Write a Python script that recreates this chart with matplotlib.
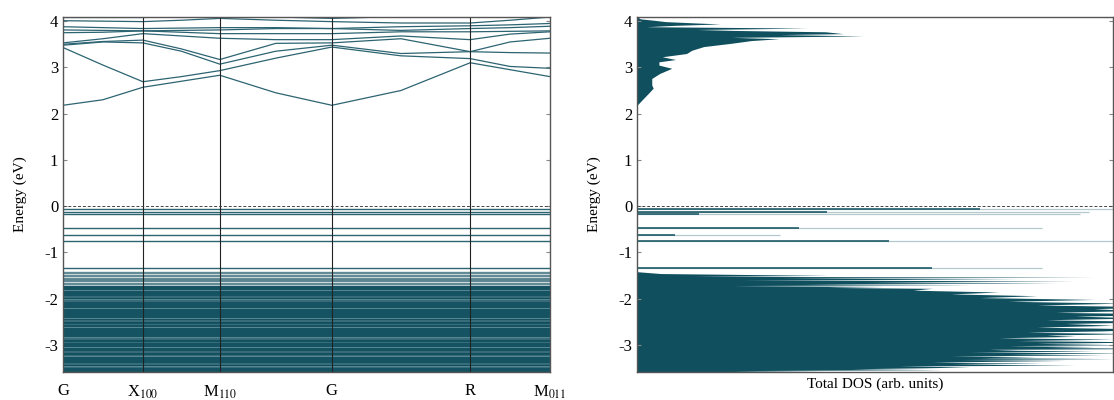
import numpy as np
import matplotlib.pyplot as plt

plt.rcParams['font.family'] = ['Liberation Serif', 'DejaVu Serif']
plt.rcParams['mathtext.fontset'] = 'stix'
plt.rcParams['axes.unicode_minus'] = False

#- Colores
teal = '#0f4f5e'
banda = '#2d6472'

#- Camino k (posiciones relativas de los puntos de alta simetria)
kpts = [0.0, 0.164, 0.322, 0.552, 0.836, 1.0]
klabels = ['G', r'X$_{\mathrm{100}}$', r'M$_{\mathrm{110}}$', 'G', 'R', r'M$_{\mathrm{011}}$']
# muestras: puntos de alta simetria y puntos medios de cada tramo
kmuestra = [0.0, 0.082, 0.164, 0.243, 0.322, 0.437, 0.552, 0.694, 0.836, 0.918, 1.0]

c1 = [2.18, 2.30, 2.57, 2.70, 2.83, 2.45, 2.18, 2.50, 3.10, 2.95, 2.80]
c2 = [3.43, 3.05, 2.69, 2.80, 2.93, 3.20, 3.44, 3.25, 3.19, 3.02, 2.98]
c3 = [3.48, 3.55, 3.53, 3.35, 3.07, 3.35, 3.48, 3.30, 3.34, 3.32, 3.31]
c4 = [3.50, 3.56, 3.59, 3.40, 3.17, 3.52, 3.53, 3.62, 3.34, 3.55, 3.63]
c5 = [3.53, 3.62, 3.73, 3.68, 3.63, 3.60, 3.60, 3.68, 3.60, 3.72, 3.77]
c6 = [3.75, 3.76, 3.79, 3.76, 3.73, 3.73, 3.73, 3.77, 3.77, 3.78, 3.79]
c7 = [3.81, 3.80, 3.79, 3.80, 3.81, 3.84, 3.84, 3.80, 3.84, 3.86, 3.89]
c8 = [3.88, 3.86, 3.84, 3.85, 3.86, 3.86, 3.84, 3.88, 3.90, 3.92, 3.95]
c9 = [4.01, 4.00, 3.99, 4.02, 4.06, 4.02, 3.99, 3.96, 3.96, 4.02, 4.09]
c10 = [4.08, 4.08, 4.08, 4.09, 4.10, 4.09, 4.06, 4.10, 4.10, 4.10, 4.10]
bandas_cond = [c1, c2, c3, c4, c5, c6, c7, c8, c9, c10]

#- Niveles en la brecha (planos)
niveles_gap = [-0.06, -0.12, -0.18, -0.47, -0.63, -0.75, -1.34]
dos_gap_fuerte = [72, 40, 13, 34, 8, 53, 62]
dos_gap_debil = [100, 95, 93, 85, 30, 100, 85]

#- Bandas de valencia (casi planas)
niveles_val = [-1.42, -1.45, -1.49, -1.52, -1.55, -1.57, -1.60, -1.63, -1.66, -1.69,
               -1.72, -1.74, -1.76, -1.78, -1.80, -1.82, -1.84, -1.87, -1.89, -1.91,
               -1.93, -1.95, -1.98, -2.00, -2.02, -2.04, -2.07, -2.09, -2.11, -2.13,
               -2.16, -2.18, -2.20, -2.22, -2.25, -2.27, -2.29, -2.31, -2.34, -2.36,
               -2.38, -2.41, -2.43, -2.45, -2.47, -2.50, -2.52, -2.54, -2.57, -2.59,
               -2.61, -2.63, -2.66, -2.68, -2.70, -2.72, -2.75, -2.77, -2.79, -2.82,
               -2.84, -2.86, -2.89, -2.91, -2.93, -2.96, -2.98, -3.00, -3.03, -3.05,
               -3.07, -3.10, -3.12, -3.14, -3.17, -3.19, -3.21, -3.24, -3.26, -3.29,
               -3.31, -3.33, -3.36, -3.38, -3.40, -3.43, -3.45, -3.47, -3.50, -3.52,
               -3.54, -3.57, -3.59]

#- DOS total (arb.)
dos_cond_e = [2.18, 2.29, 2.44, 2.55, 2.62, 2.76, 2.87, 2.98, 3.05, 3.12, 3.17, 3.23,
              3.30, 3.37, 3.45, 3.52, 3.58, 3.62, 3.65, 3.68, 3.71, 3.73, 3.77, 3.80,
              3.82, 3.85, 3.88, 3.91, 3.94, 3.96, 3.99, 4.02, 4.05, 4.10]
dos_cond = [0.0, 1.0, 2.4, 3.4, 3.1, 3.1, 4.8, 7.3, 4.6, 4.6, 8.1, 5.3,
            10.4, 11.5, 14.0, 19.7, 24.0, 29.8, 20.0, 47.6, 30.0, 43.3, 39.6, 20.0,
            12.6, 35.7, 2.0, 8.0, 17.5, 12.6, 6.0, 3.5, 0.7, 0.0]

dos_val_e = [-3.62, -3.60, -3.58, -3.56, -3.54, -3.52, -3.50, -3.48, -3.46, -3.44,
             -3.42, -3.40, -3.38, -3.36, -3.34, -3.32, -3.30, -3.28, -3.26, -3.24,
             -3.22, -3.20, -3.18, -3.16, -3.14, -3.12, -3.10, -3.08, -3.06, -3.04,
             -3.02, -3.00, -2.97, -2.94, -2.91, -2.88, -2.85, -2.82, -2.79, -2.76,
             -2.73, -2.70, -2.66, -2.62, -2.58, -2.54, -2.50, -2.46, -2.42, -2.38,
             -2.34, -2.30, -2.26, -2.22, -2.18, -2.14, -2.10, -2.06, -2.02, -1.98,
             -1.94, -1.90, -1.86, -1.82, -1.78, -1.76, -1.74, -1.72, -1.70, -1.68,
             -1.66, -1.64, -1.62, -1.60, -1.58, -1.56, -1.54, -1.52, -1.50, -1.46,
             -1.42]
dos_val = [28, 12, 40, 20, 64, 45, 60, 70, 55, 92, 66, 85, 62, 74, 90, 68, 100, 72,
           84, 66, 98, 78, 104, 70, 96, 80, 74, 112, 86, 96, 78, 102, 84, 108, 80,
           100, 76, 92, 86, 104, 82, 98, 108, 84, 100, 90, 112, 86, 106, 92, 118,
           88, 104, 96, 110, 84, 102, 78, 96, 72, 84, 66, 76, 58, 62, 40, 52, 20,
           70, 35, 88, 48, 92, 22, 80, 30, 96, 12, 40, 5, 0]

#==============================================================================
fig = plt.figure(figsize=(11.14, 4.0), dpi=100)
ax1 = fig.add_axes([63/1114, 28/400, 487/1114, 355/400])
ax2 = fig.add_axes([637/1114, 28/400, 476/1114, 355/400])
ylim = (-3.59, 4.09)

#- Estructura de bandas
for b in bandas_cond:
    ax1.plot(kmuestra, b, color=banda, lw=0.9)
for e in niveles_gap:
    ax1.axhline(e, color=banda, lw=1.0)
for e in niveles_val:
    if e > -1.75:
        ax1.axhline(e, color=banda, lw=1.0, alpha=0.7)
    else:
        ax1.axhline(e, color=teal, lw=1.2)
# algunas franjas claras entre bandas
for e in niveles_val[14::9]:
    ax1.axhline(e - 0.011, color='#7fa6af', lw=0.45)
for k in kpts[1:-1]:
    ax1.axvline(k, color='#222222', lw=0.8)
ax1.axhline(0, color='#444444', lw=0.7, ls=(0, (3, 2)))
ax1.set_xlim(0, 1)
ax1.set_ylim(ylim)
ax1.set_xticks(kpts)
ax1.set_xticklabels(klabels, fontsize=12)
ax1.tick_params(axis='x', length=0, pad=8)
ax1.set_ylabel('Energy (eV)', fontsize=11, labelpad=12)

#- DOS total
ax2.fill_betweenx(dos_cond_e, 0, dos_cond, color=teal, lw=0)
ax2.fill_betweenx(dos_val_e, 0, dos_val, color=teal, lw=0)
for e, d1, d2 in zip(niveles_gap, dos_gap_fuerte, dos_gap_debil):
    ax2.hlines(e, 0, d2, color=banda, lw=0.9, alpha=0.35)
    ax2.hlines(e, 0, d1, color=teal, lw=1.1)
ax2.axhline(0, color='#444444', lw=0.7, ls=(0, (3, 2)))
ax2.set_xlim(0, 100)
ax2.set_ylim(ylim)
ax2.set_xticks([])
ax2.set_xlabel('Total DOS (arb. units)', fontsize=11)
ax2.set_ylabel('Energy (eV)', fontsize=11, labelpad=12)

for ax in (ax1, ax2):
    ax.set_yticks([-3, -2, -1, 0, 1, 2, 3, 4])
    ax.tick_params(axis='y', direction='in', length=3, labelsize=12, right=True, color='#888888')
    for s in ax.spines.values():
        s.set_color('#555555')
        s.set_linewidth(1.0)

plt.savefig('out.png', dpi=100)
plt.close()
